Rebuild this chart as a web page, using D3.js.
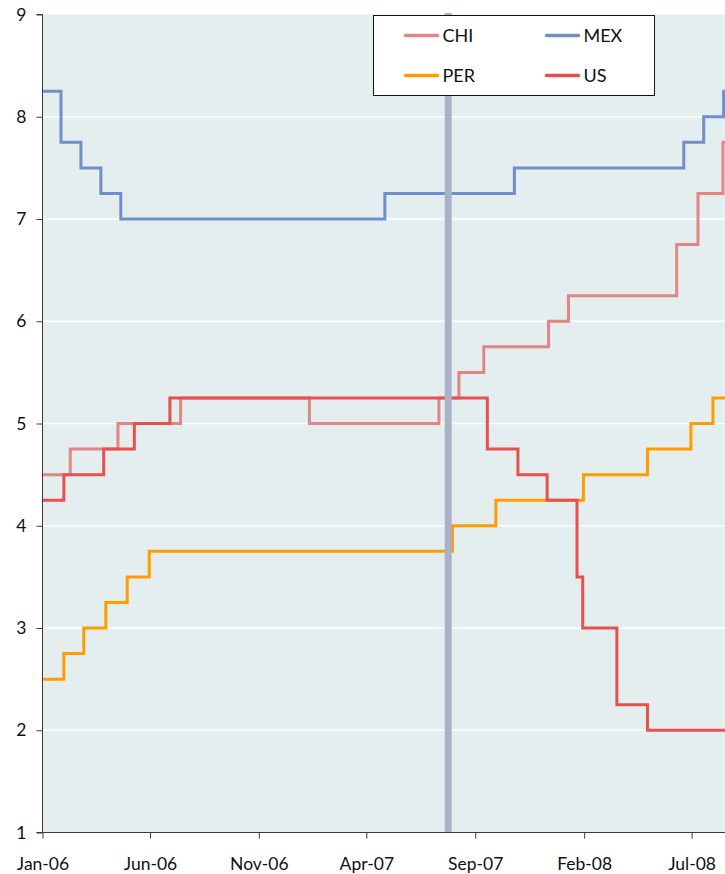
<!DOCTYPE html>
<html>
<head>
<meta charset="utf-8">
<script src="https://cdn.jsdelivr.net/npm/d3@7"></script>
<style>
  html, body { margin: 0; padding: 0; background: #fff; }
  svg { display: block; font-family: Lato, "Open Sans", sans-serif; }
</style>
</head>
<body>
<svg id="chart" width="725" height="874"></svg>
<script>
// Policy interest rates (%), step changes by effective date
const seriesNames = ["CHI", "MEX", "PER", "US"];
const seriesColors = ["#e08686", "#6f8fca", "#ff9c00", "#e8504f"];

const chiDates = ["2006-01-01", "2006-02-09", "2006-04-17", "2006-07-14", "2007-01-11", "2007-07-12",
                  "2007-08-09", "2007-09-13", "2007-12-13", "2008-01-10", "2008-06-10", "2008-07-10",
                  "2008-08-14", "2008-10-31"];
const chiRates = [4.50, 4.75, 5.00, 5.25, 5.00, 5.25, 5.50, 5.75, 6.00, 6.25, 6.75, 7.25, 7.75, 7.75];

const mexDates = ["2006-01-01", "2006-01-27", "2006-02-24", "2006-03-24", "2006-04-21", "2007-04-27",
                  "2007-10-26", "2008-06-20", "2008-07-18", "2008-08-15", "2008-10-31"];
const mexRates = [8.25, 7.75, 7.50, 7.25, 7.00, 7.25, 7.50, 7.75, 8.00, 8.25, 8.25];

const perDates = ["2006-01-01", "2006-01-31", "2006-02-28", "2006-03-31", "2006-04-30", "2006-05-31",
                  "2007-07-31", "2007-09-30", "2008-01-31", "2008-04-30", "2008-06-30", "2008-07-31",
                  "2008-10-31"];
const perRates = [2.50, 2.75, 3.00, 3.25, 3.50, 3.75, 4.00, 4.25, 4.50, 4.75, 5.00, 5.25, 5.25];

const usDates = ["2006-01-01", "2006-01-31", "2006-03-28", "2006-05-10", "2006-06-29", "2007-09-18",
                 "2007-10-31", "2007-12-11", "2008-01-22", "2008-01-30", "2008-03-18", "2008-04-30",
                 "2008-10-31"];
const usRates = [4.25, 4.50, 4.75, 5.00, 5.25, 4.75, 4.50, 4.25, 3.50, 3.00, 2.25, 2.00, 2.00];

const markerDate = "2007-07-25";   // vertical reference band
const xTickDates = ["2006-01-01", "2006-06-01", "2006-11-01", "2007-04-01", "2007-09-01", "2008-02-01", "2008-07-01"];
const yTickValues = [1, 2, 3, 4, 5, 6, 7, 8, 9];

const parse = d3.utcParse("%Y-%m-%d");
const seriesDates = [chiDates, mexDates, perDates, usDates];
const seriesRates = [chiRates, mexRates, perRates, usRates];
const series = seriesNames.map((name, i) => ({
  name,
  color: seriesColors[i],
  points: seriesDates[i].map((d, j) => ({ date: parse(d), value: seriesRates[i][j] }))
}));

const W = 725, H = 874;
const plotLeft = 42.5, plotTop = 14.5, plotBottom = 832.5, plotRight = W;

const x = d3.scaleUtc()
  .domain([parse("2006-01-01"), parse("2008-07-01")])
  .range([plotLeft, 691.6]);
const y = d3.scaleLinear().domain([1, 9]).range([plotBottom, plotTop]);

const svg = d3.select("#chart");

// plot background
svg.append("rect")
  .attr("x", plotLeft).attr("y", plotTop)
  .attr("width", plotRight - plotLeft).attr("height", plotBottom - plotTop)
  .attr("fill", "#e4eeee");

// horizontal gridlines
svg.append("g")
  .selectAll("line")
  .data(yTickValues.filter(v => v > 1 && v < 9))
  .join("line")
  .attr("x1", plotLeft).attr("x2", plotRight)
  .attr("y1", d => y(d)).attr("y2", d => y(d))
  .attr("stroke", "#ffffff").attr("stroke-width", 1.3);

// rate lines
const line = d3.line()
  .x(d => x(d.date))
  .y(d => y(d.value))
  .curve(d3.curveStepAfter);

svg.append("g")
  .selectAll("path")
  .data(series)
  .join("path")
  .attr("d", d => line(d.points))
  .attr("fill", "none")
  .attr("stroke", d => d.color)
  .attr("stroke-width", 3)
  .attr("stroke-linejoin", "miter");

// vertical reference band
svg.append("line")
  .attr("x1", x(parse(markerDate))).attr("x2", x(parse(markerDate)))
  .attr("y1", plotTop - 1.5).attr("y2", plotBottom)
  .attr("stroke", "#aab1c9").attr("stroke-width", 7);

// y axis
const yAxis = d3.axisLeft(y)
  .tickValues(yTickValues)
  .tickFormat(d3.format("d"))
  .tickSize(6)
  .tickPadding(10);
const gy = svg.append("g")
  .attr("transform", `translate(${plotLeft},0)`)
  .call(yAxis);
gy.select(".domain").attr("stroke", "#3a3a3a").attr("d", `M-6,${plotTop}H0V${plotBottom}H-6`);
gy.selectAll(".tick line").attr("stroke", "#3a3a3a");
gy.selectAll(".tick text")
  .attr("fill", "#111")
  .style("font-size", "17.5px")
  .style("font-family", "Lato, 'Open Sans', sans-serif");

// x axis
const xAxis = d3.axisBottom(x)
  .tickValues(xTickDates.map(parse))
  .tickFormat(d3.utcFormat("%b-%y"))
  .tickSize(6)
  .tickPadding(19);
const gx = svg.append("g")
  .attr("transform", `translate(0,${plotBottom})`)
  .call(xAxis);
gx.select(".domain").attr("stroke", "#3a3a3a").attr("d", `M${plotLeft},0H${plotRight}`);
gx.selectAll(".tick line").attr("stroke", "#3a3a3a");
gx.selectAll(".tick text")
  .attr("fill", "#111")
  .style("font-size", "17.5px")
  .style("font-family", "Lato, 'Open Sans', sans-serif");

// legend
const legend = svg.append("g").attr("transform", "translate(373.5,15.5)");
legend.append("rect")
  .attr("width", 281).attr("height", 80)
  .attr("fill", "#ffffff").attr("stroke", "#111").attr("stroke-width", 1);
const legendItems = legend.selectAll("g.item")
  .data(series)
  .join("g")
  .attr("class", "item")
  .attr("transform", (d, i) => `translate(${(i % 2) * 141},${i < 2 ? 20 : 60})`);
legendItems.append("line")
  .attr("x1", 32).attr("x2", 64).attr("y1", 0).attr("y2", 0)
  .attr("stroke", d => d.color).attr("stroke-width", 3.5)
  .attr("stroke-linecap", "round");
legendItems.append("text")
  .attr("x", 69).attr("y", 0).attr("dy", "0.36em")
  .attr("fill", "#111")
  .style("font-size", "18px")
  .text(d => d.name);
</script>
</body>
</html>
